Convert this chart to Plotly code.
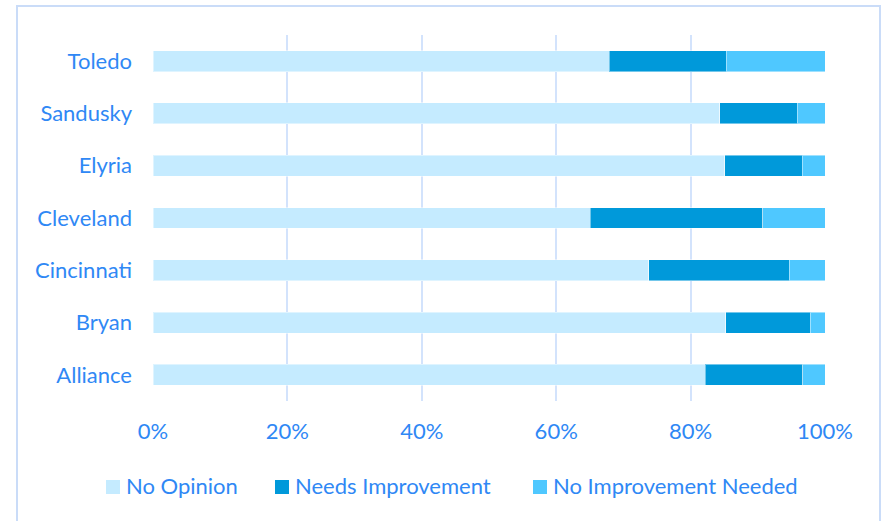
import plotly.graph_objects as go

# Survey responses per city (percent of respondents)
cities = ["Alliance", "Bryan", "Cincinnati", "Cleveland", "Elyria", "Sandusky", "Toledo"]
no_opinion = [82.2, 85.2, 73.8, 65.1, 85.1, 84.3, 67.9]
needs_improvement = [14.5, 12.6, 20.9, 25.6, 11.5, 11.6, 17.4]
no_improvement_needed = [3.3, 2.2, 5.3, 9.3, 3.4, 4.1, 14.7]

x_ticks = [0, 20, 40, 60, 80, 100]

series_names = ["No Opinion", "Needs Improvement", "No Improvement Needed"]
series_values = [no_opinion, needs_improvement, no_improvement_needed]
series_colors = ["#C5EBFF", "#0099DA", "#4FC8FF"]

text_color = "#2F88F5"
grid_color = "#D3E3FC"
font_family = "Lato, Carlito, Calibri, sans-serif"
font_size = 22

fig = go.Figure()
for name, values, color in zip(series_names, series_values, series_colors):
    fig.add_trace(go.Bar(
        y=cities,
        x=values,
        name=name,
        orientation="h",
        marker=dict(color=color, line=dict(color="rgba(255,255,255,0.45)", width=1)),
        hoverinfo="x+y+name",
        showlegend=False,
    ))

W, H = 884, 521
ml, mr, mt, mb = 153, 59, 35, 120
pw, ph = W - ml - mr, H - mt - mb


def px_x(px):
    return (px - ml) / pw


def px_y(py):
    return (H - mb - py) / ph


# Legend row below the axis: swatch + label per series
legend_swatch_left = [106, 275, 533]
legend_y = 487
swatch = 14
shapes = [
    dict(
        type="rect",
        xref="paper", yref="paper",
        x0=px_x(17), x1=px_x(880),
        y0=px_y(530), y1=px_y(6),
        line=dict(color="#CADCF8", width=2),
        fillcolor="rgba(0,0,0,0)",
        layer="below",
    )
]
annotations = []
for name, color, left in zip(series_names, series_colors, legend_swatch_left):
    shapes.append(dict(
        type="rect",
        xref="paper", yref="paper",
        x0=px_x(left), x1=px_x(left + swatch),
        y0=px_y(legend_y + swatch / 2), y1=px_y(legend_y - swatch / 2),
        line=dict(width=0),
        fillcolor=color,
    ))
    annotations.append(dict(
        xref="paper", yref="paper",
        x=px_x(left + swatch + 4), y=px_y(legend_y - 2),
        xanchor="left", yanchor="middle",
        text=name,
        showarrow=False,
        font=dict(family=font_family, size=font_size, color=text_color),
    ))

fig.update_layout(
    width=W,
    height=H,
    barmode="stack",
    bargap=0.6,
    margin=dict(l=ml, r=mr, t=mt, b=mb),
    paper_bgcolor="white",
    plot_bgcolor="white",
    font=dict(family=font_family, size=font_size, color=text_color),
    showlegend=False,
    xaxis=dict(
        range=[0, 100],
        tickvals=x_ticks,
        ticktext=[f"{v}%" for v in x_ticks],
        showgrid=True,
        gridcolor=grid_color,
        gridwidth=2,
        zeroline=False,
        showline=False,
        ticks="",
        ticklabelstandoff=15,
        fixedrange=True,
    ),
    yaxis=dict(
        showgrid=False,
        zeroline=False,
        showline=False,
        ticks="",
        ticklabelstandoff=20,
        categoryorder="array",
        categoryarray=cities,
        fixedrange=True,
    ),
    shapes=shapes,
    annotations=annotations,
)

fig.write_html("out.html")
